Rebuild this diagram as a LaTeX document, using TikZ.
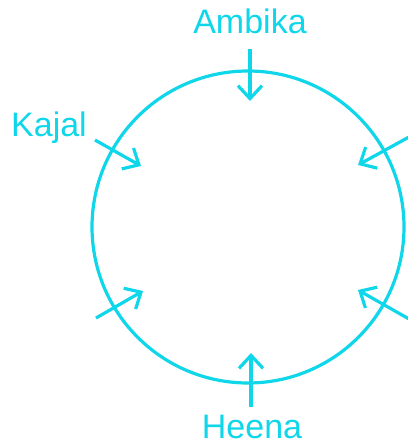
\documentclass[tikz,border=0pt]{standalone}
\usepackage{fontspec}
\setmainfont{Liberation Sans}
\usetikzlibrary{arrows.meta}
\definecolor{ringcyan}{RGB}{16,214,234}

\begin{document}
\begin{tikzpicture}[
    x=1pt, y=-1pt,
    >={Straight Barb[length=13pt,width=24pt]},
    ring/.style={draw=ringcyan, line width=3.2pt},
    pointer/.style={->, draw=ringcyan, line width=3.2pt},
    pupil/.style={text=ringcyan, inner sep=0pt, font=\fontsize{34}{37}\selectfont}
]
\useasboundingbox (0,0) rectangle (407,446);

\coordinate (centre) at (248,227);
\draw[ring] (centre) circle[radius=156];

\node[pupil, anchor=base] (ambika) at (250,34) {Ambika};
\node[pupil, anchor=base west] (kajal) at (11,137) {Kajal};
\node[pupil, anchor=base] (heena) at (252,438) {Heena};

% pointers towards the middle
\coordinate (ambikaFrom) at (250,49);  \coordinate (ambikaTo) at (250,101);
\coordinate (kajalFrom) at (95,140);   \coordinate (kajalTo) at (141,166);
\coordinate (leftFrom) at (96,318);    \coordinate (leftTo) at (143,291);
\coordinate (rightFrom) at (409,137);  \coordinate (rightTo) at (358,165);
\coordinate (lowFrom) at (409,319);    \coordinate (lowTo) at (358,290);
\coordinate (heenaFrom) at (251,407);  \coordinate (heenaTo) at (251,353);

\draw[pointer] (ambikaFrom) -- (ambikaTo);
\draw[pointer] (kajalFrom) -- (kajalTo);
\draw[pointer] (leftFrom) -- (leftTo);
\draw[pointer] (rightFrom) -- (rightTo);
\draw[pointer] (lowFrom) -- (lowTo);
\draw[pointer] (heenaFrom) -- (heenaTo);
\end{tikzpicture}
\end{document}
